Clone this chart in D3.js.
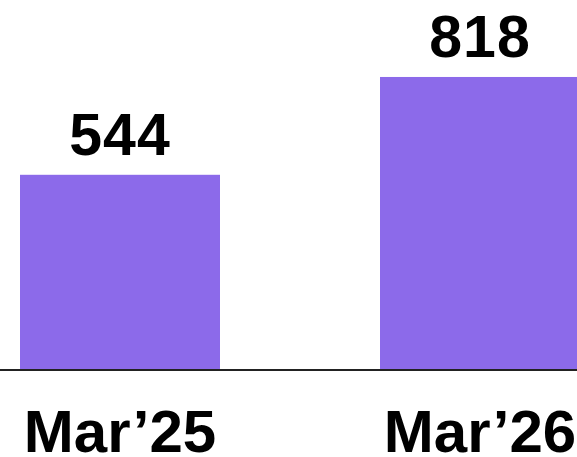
<!DOCTYPE html>
<html><head><meta charset="utf-8">
<script src="https://cdn.jsdelivr.net/npm/d3@7"></script>
<style>html,body{margin:0;padding:0;background:#fff;overflow:hidden}</style>
</head><body>
<script>
const categories = ["Mar’25", "Mar’26"];
const values = [544, 818];

const W = 577, H = 457;
const svg = d3.select("body").append("svg").attr("width", W).attr("height", H);

const x = d3.scaleBand().domain(categories).range([20, 580]).paddingInner(160/360).paddingOuter(0);
const y = d3.scaleLinear().domain([0, 1000]).range([369, 12]);

svg.selectAll("rect.bar").data(values).join("rect")
  .attr("class", "bar")
  .attr("x", (d, i) => x(categories[i]))
  .attr("y", d => y(d))
  .attr("width", x.bandwidth())
  .attr("height", d => y(0) - y(d))
  .attr("fill", "#8c6aea");

svg.append("line").attr("x1", 0).attr("x2", W).attr("y1", y(0) + 1).attr("y2", y(0) + 1)
  .attr("stroke", "#222").attr("stroke-width", 2);

svg.selectAll("text.val").data(values).join("text")
  .attr("class", "val")
  .attr("x", (d, i) => x(categories[i]) + x.bandwidth() / 2)
  .attr("y", d => y(d) - 19.5)
  .attr("text-anchor", "middle")
  .attr("font-family", "Liberation Sans, Arial, sans-serif")
  .attr("font-weight", "bold")
  .attr("font-size", 59)
  .attr("letter-spacing", 1)
  .attr("fill", "#000")
  .text(d => d);

svg.selectAll("text.cat").data(categories).join("text")
  .attr("class", "cat")
  .attr("x", d => x(d) + x.bandwidth() / 2)
  .attr("y", 452)
  .attr("text-anchor", "middle")
  .attr("font-family", "Liberation Sans, Arial, sans-serif")
  .attr("font-weight", "bold")
  .attr("font-size", 60)
  .attr("letter-spacing", 0)
  .attr("fill", "#000")
  .text(d => d);
</script>
</body></html>
